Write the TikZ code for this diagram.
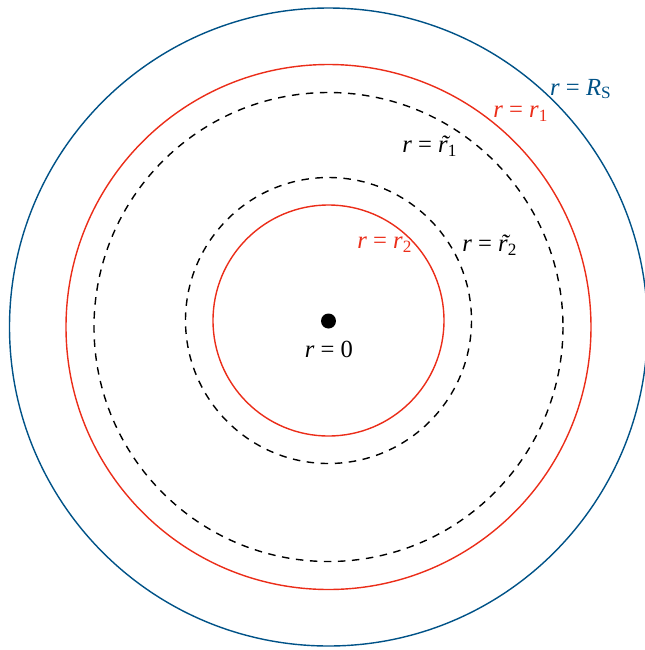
\documentclass[tikz,border=0pt]{standalone}
\usepackage{fontspec}
\setmainfont{Liberation Serif}
\usetikzlibrary{calc}
\tikzset{
  shell/.style={line width=0.6pt},
  probe/.style={line width=0.6pt, dash pattern=on 3.2pt off 2.8pt},
  lbl/.style={inner sep=1pt, font=\fontsize{10.5}{12}\selectfont},
  pt/.style={circle, fill, inner sep=0pt, minimum size=15*0.015cm},
}
\definecolor{surf}{RGB}{0,82,135}
\definecolor{layer}{RGB}{235,45,25}
\newcommand{\rr}{\textit{r}}
\newcommand{\rtil}{\textit{\makebox[0pt][l]{\hspace{0.1em}\char"02DC}r}}
\newcommand{\sub}[1]{\textsubscript{#1}}

\begin{document}
\begin{tikzpicture}[x=0.015cm, y=-0.015cm]
  \useasboundingbox (0,0) rectangle (644,650);
  \coordinate (O) at (328.5,327);
  \coordinate (Oi) at (328.5,320.5);
  % outer shells
  \draw[shell, surf] (O) circle[radius=319];
  \draw[shell, layer] (O) circle[radius=262.5];
  \draw[probe] (O) circle[radius=234.5];
  % inner shells, centred a little higher
  \draw[probe] (Oi) circle[radius=143];
  \draw[shell, layer] (Oi) circle[radius=115.5];
  \node[pt] (c) at (328.5,321) {};
  % labels
  \node[lbl, surf] (lRS) at (581,89) {\rr\ = \textit{R}\sub{S}};
  \node[lbl, layer] (lr1) at (521,114) {\rr\ = \rr\sub{1}};
  \node[lbl] (lt1) at (430,146) {\rr\ = \rtil\sub{1}};
  \node[lbl, layer] (lr2) at (385,245) {\rr\ = \rr\sub{2}};
  \node[lbl] (lt2) at (490,245) {\rr\ = \rtil\sub{2}};
  \node[lbl] (l0) at (329,349) {\rr\ = 0};
\end{tikzpicture}
\end{document}
